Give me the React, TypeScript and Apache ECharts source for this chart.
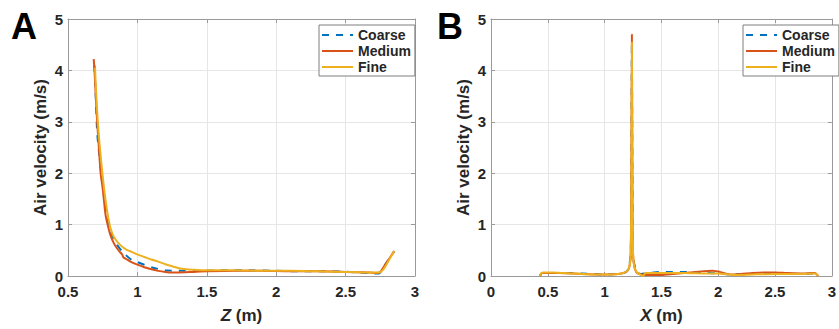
import React, { useEffect, useRef } from "react";
import * as echarts from "echarts";

// ---- Panel A: air velocity vs Z ----
const zCoarseA = [0.69, 0.70, 0.71, 0.72, 0.74, 0.76, 0.78, 0.80, 0.83, 0.86, 0.9, 0.95, 1.0, 1.1, 1.2, 1.3, 1.4, 1.6, 1.8, 2.0, 2.2, 2.4, 2.6, 2.7, 2.74, 2.78, 2.82, 2.85];
const vCoarseA = [4.1, 3.5, 2.8, 2.5, 2.0, 1.6, 1.15, 0.92, 0.72, 0.58, 0.45, 0.33, 0.27, 0.17, 0.11, 0.1, 0.1, 0.11, 0.11, 0.1, 0.09, 0.09, 0.07, 0.05, 0.05, 0.2, 0.36, 0.48];

const zMediumA = [0.685, 0.69, 0.70, 0.71, 0.72, 0.735, 0.75, 0.77, 0.79, 0.81, 0.83, 0.85, 0.87, 0.89, 0.9, 0.92, 0.95, 1.0, 1.05, 1.1, 1.15, 1.2, 1.25, 1.3, 1.4, 1.5, 1.7, 1.9, 2.1, 2.3, 2.5, 2.65, 2.72, 2.75, 2.78, 2.82, 2.85];
const vMediumA = [4.22, 4.05, 3.5, 3.0, 2.6, 2.0, 1.7, 1.2, 0.95, 0.76, 0.64, 0.55, 0.48, 0.42, 0.36, 0.33, 0.28, 0.22, 0.17, 0.13, 0.1, 0.08, 0.07, 0.07, 0.08, 0.09, 0.1, 0.1, 0.09, 0.09, 0.08, 0.07, 0.06, 0.08, 0.2, 0.36, 0.48];

const zFineA = [0.695, 0.70, 0.71, 0.72, 0.74, 0.76, 0.78, 0.80, 0.82, 0.84, 0.87, 0.9, 0.93, 0.96, 1.0, 1.05, 1.1, 1.15, 1.2, 1.25, 1.3, 1.35, 1.4, 1.5, 1.7, 1.9, 2.1, 2.3, 2.5, 2.65, 2.74, 2.77, 2.8, 2.85];
const vFineA = [4.05, 3.7, 3.2, 2.8, 2.2, 1.7, 1.3, 1.0, 0.82, 0.72, 0.62, 0.55, 0.5, 0.47, 0.42, 0.37, 0.32, 0.28, 0.23, 0.19, 0.15, 0.13, 0.12, 0.11, 0.11, 0.1, 0.1, 0.09, 0.08, 0.07, 0.07, 0.12, 0.25, 0.49];

// ---- Panel B: air velocity vs X ----
const xCoarseB = [0.43, 0.45, 0.6, 0.8, 1.0, 1.15, 1.2, 1.23, 1.24, 1.25, 1.28, 1.32, 1.4, 1.5, 1.6, 1.7, 1.8, 1.9, 2.0, 2.1, 2.3, 2.5, 2.7, 2.85, 2.88];
const vCoarseB = [0.0, 0.06, 0.06, 0.05, 0.03, 0.05, 0.1, 0.4, 4.5, 0.4, 0.08, 0.04, 0.06, 0.08, 0.08, 0.08, 0.07, 0.06, 0.05, 0.03, 0.04, 0.04, 0.04, 0.05, 0.0];

const xMediumB = [0.43, 0.45, 0.6, 0.8, 1.0, 1.15, 1.2, 1.22, 1.23, 1.235, 1.24, 1.245, 1.25, 1.26, 1.28, 1.32, 1.4, 1.5, 1.6, 1.75, 1.85, 1.95, 2.03, 2.1, 2.2, 2.3, 2.4, 2.5, 2.6, 2.75, 2.85, 2.88];
const vMediumB = [0.0, 0.06, 0.06, 0.04, 0.03, 0.05, 0.1, 0.2, 0.45, 1.5, 4.7, 1.5, 0.45, 0.2, 0.07, 0.03, 0.02, 0.02, 0.04, 0.07, 0.09, 0.1, 0.07, 0.03, 0.04, 0.06, 0.07, 0.07, 0.06, 0.05, 0.06, 0.0];

const xFineB = [0.43, 0.44, 0.46, 0.55, 0.7, 0.9, 1.05, 1.15, 1.2, 1.22, 1.23, 1.235, 1.24, 1.245, 1.25, 1.26, 1.28, 1.31, 1.33, 1.34, 1.36, 1.5, 1.7, 1.9, 2.0, 2.1, 2.15, 2.3, 2.5, 2.7, 2.85, 2.87, 2.88];
const vFineB = [0.0, 0.05, 0.07, 0.07, 0.05, 0.03, 0.03, 0.05, 0.1, 0.2, 0.45, 1.5, 4.55, 1.5, 0.45, 0.2, 0.08, 0.03, 0.01, 0.0, 0.06, 0.06, 0.06, 0.05, 0.05, 0.03, 0.02, 0.03, 0.04, 0.04, 0.05, 0.03, 0.0];

const seriesNames = ["Coarse", "Medium", "Fine"];
const yTicks = { min: 0, max: 5, interval: 1 };

const COLORS = ["#0072BD", "#D95319", "#EDB120"];
const FONT = "Liberation Sans, Arial, sans-serif";
const TXT = "#262626";
const AXC = "#9a9a9a";

const zip = (xs: number[], ys: number[]) => xs.map((x, i) => [x, ys[i]]);

export default function App() {
  const ref = useRef<HTMLDivElement>(null);
  useEffect(() => {
    if (!ref.current) return;
    const chart = echarts.init(ref.current, undefined, { renderer: "svg" });

    const gridA = { left: 68, top: 19, width: 347, height: 259 };
    const gridB = { left: 491, top: 19, width: 347, height: 259 };

    const mkX = (gi: number, min: number, letter: string) => ({
      type: "value",
      gridIndex: gi,
      min,
      max: 3,
      interval: 0.5,
      name: `{i|${letter}} (m)`,
      nameLocation: "middle",
      nameGap: 31,
      nameTextStyle: {
        fontFamily: FONT,
        fontSize: 17,
        fontWeight: "bold",
        color: TXT,
        verticalAlign: "top",
        rich: {
          i: { fontFamily: FONT, fontSize: 17, fontWeight: "bold", fontStyle: "italic", color: TXT },
        },
      },
      axisLine: { show: true, onZero: false, lineStyle: { color: AXC, width: 1 } },
      axisTick: { show: true, inside: true, length: 4, lineStyle: { color: AXC } },
      axisLabel: { fontFamily: FONT, fontSize: 15, fontWeight: "bold", color: TXT, margin: 8 },
      splitLine: { show: true, lineStyle: { color: "#e6e6e6", width: 1 } },
    });
    const mkXTop = (gi: number, min: number) => ({
      type: "value",
      gridIndex: gi,
      position: "top",
      min,
      max: 3,
      interval: 0.5,
      axisLine: { show: true, onZero: false, lineStyle: { color: AXC, width: 1 } },
      axisTick: { show: true, inside: true, length: 4, lineStyle: { color: AXC } },
      axisLabel: { show: false },
      splitLine: { show: false },
    });
    const mkY = (gi: number) => ({
      type: "value",
      gridIndex: gi,
      ...yTicks,
      name: "Air velocity (m/s)",
      nameLocation: "middle",
      nameGap: 19,
      nameTextStyle: { fontFamily: FONT, fontSize: 17, fontWeight: "bold", color: TXT },
      axisLine: { show: true, onZero: false, lineStyle: { color: AXC, width: 1 } },
      axisTick: { show: true, inside: true, length: 4, lineStyle: { color: AXC } },
      axisLabel: { fontFamily: FONT, fontSize: 15, fontWeight: "bold", color: TXT, margin: 5 },
      splitLine: { show: true, lineStyle: { color: "#e6e6e6", width: 1 } },
    });
    const mkYRight = (gi: number) => ({
      type: "value",
      gridIndex: gi,
      position: "right",
      ...yTicks,
      axisLine: { show: true, onZero: false, lineStyle: { color: AXC, width: 1 } },
      axisTick: { show: true, inside: true, length: 4, lineStyle: { color: AXC } },
      axisLabel: { show: false },
      splitLine: { show: false },
    });

    const mkSeries = (name: string, idx: number, data: number[][], axisIdx: number) => ({
      name,
      type: "line",
      xAxisIndex: axisIdx,
      yAxisIndex: axisIdx,
      data,
      symbol: "none",
      smooth: 0.2,
      lineStyle: {
        color: COLORS[idx],
        width: 2,
        type: idx === 0 ? [7, 7] : "solid",
      },
      itemStyle: { color: COLORS[idx] },
      z: 2 + idx,
    });

    const mkLegend = (left: number) => ({
      left,
      top: 25,
      orient: "vertical",
      itemWidth: 31,
      itemHeight: 14,
      itemGap: 2,
      padding: [3, 4, 2, 2],
      borderColor: "#7f7f7f",
      borderWidth: 1,
      backgroundColor: "#ffffff",
      data: seriesNames,
      itemStyle: { opacity: 0, borderWidth: 0 },
      textStyle: { fontFamily: FONT, fontSize: 14, fontWeight: "bold", color: TXT },
    });

    chart.setOption({
      animation: false,
      backgroundColor: "#ffffff",
      grid: [
        { ...gridA, show: true, borderColor: AXC, borderWidth: 0, backgroundColor: "#fff" },
        { ...gridB, show: true, borderColor: AXC, borderWidth: 0, backgroundColor: "#fff" },
      ],
      xAxis: [mkX(0, 0.5, "Z"), mkX(1, 0, "X"), mkXTop(0, 0.5), mkXTop(1, 0)],
      yAxis: [mkY(0), mkY(1), mkYRight(0), mkYRight(1)],
      legend: [mkLegend(319), mkLegend(743)],
      series: [
        mkSeries(seriesNames[0], 0, zip(zCoarseA, vCoarseA), 0),
        mkSeries(seriesNames[1], 1, zip(zMediumA, vMediumA), 0),
        mkSeries(seriesNames[2], 2, zip(zFineA, vFineA), 0),
        mkSeries(seriesNames[0], 0, zip(xCoarseB, vCoarseB), 1),
        mkSeries(seriesNames[1], 1, zip(xMediumB, vMediumB), 1),
        mkSeries(seriesNames[2], 2, zip(xFineB, vFineB), 1),
      ],
      graphic: [
        {
          type: "text",
          left: 11,
          top: 8,
          style: { text: "A", fontFamily: FONT, fontSize: 36, fontWeight: "bold", fill: "#000" },
        },
        {
          type: "text",
          left: 437,
          top: 8,
          style: { text: "B", fontFamily: FONT, fontSize: 36, fontWeight: "bold", fill: "#000" },
        },
      ],
    });
    return () => chart.dispose();
  }, []);
  return (
    <div
      ref={ref}
      style={{ position: "fixed", left: 0, top: 0, width: 839, height: 329, background: "#fff" }}
    />
  );
}
